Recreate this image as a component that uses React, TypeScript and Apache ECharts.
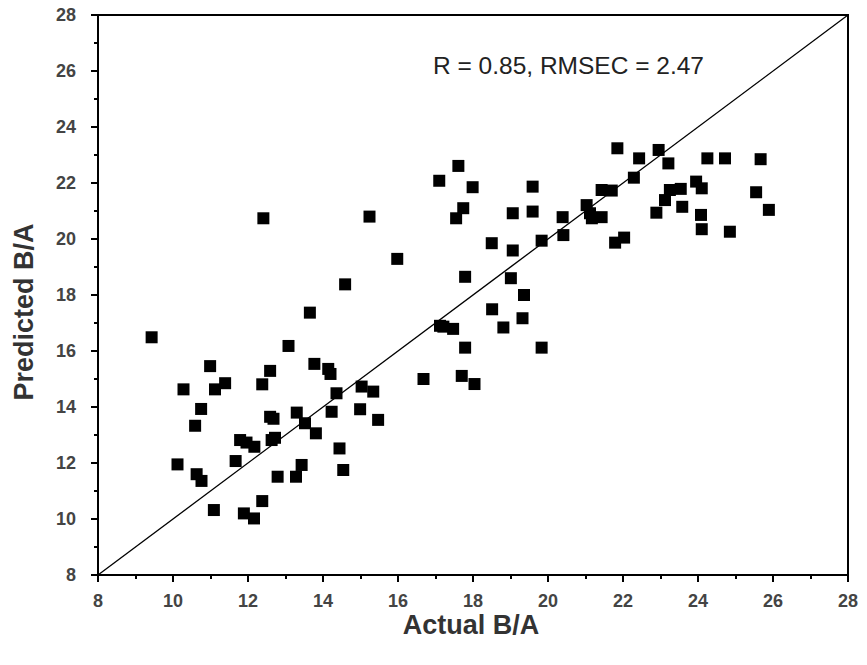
import React, { useEffect, useRef } from "react";
import * as echarts from "echarts";

const actual: number[] = [
  9.43, 13.65, 13.08, 10.99, 13.77, 14.14, 14.2, 12.59, 11.39, 11.12, 10.28, 12.38, 14.36, 15.03, 15.34,
  10.75, 10.59, 12.59, 12.68, 13.3, 13.52, 13.81, 14.23, 14.99, 15.47, 11.79, 11.96, 12.17, 12.63, 12.72,
  14.44, 10.12, 11.67, 10.63, 10.76, 12.79, 13.28, 13.43, 14.54, 11.09, 11.89, 12.16, 12.38,
  15.98, 14.59, 16.68, 17.7, 18.04, 17.79, 19.83, 17.12, 17.21, 17.47, 17.79, 18.51, 18.81, 19.32, 19.36,
  19.01, 18.5, 19.06, 19.83, 20.41,
  21.85, 22.95, 22.43, 23.21, 24.25, 24.72, 25.67, 17.61, 17.1, 17.99, 19.59, 22.29, 21.43, 21.7, 23.95,
  24.1, 23.25, 23.54, 23.12, 25.55, 17.74, 17.55, 19.06, 19.59, 21.03, 21.12, 21.17, 21.43, 20.39, 22.89,
  23.58, 24.08, 25.89, 24.1, 24.85, 21.79, 22.03,
  12.41, 15.24,
];

const predicted: number[] = [
  16.49, 17.37, 16.18, 15.46, 15.54, 15.36, 15.18, 15.29, 14.85, 14.63, 14.63, 14.81, 14.49, 14.73, 14.55,
  13.93, 13.33, 13.65, 13.58, 13.8, 13.42, 13.06, 13.83, 13.92, 13.54, 12.82, 12.73, 12.58, 12.82, 12.9,
  12.52, 11.95, 12.07, 11.6, 11.36, 11.51, 11.51, 11.93, 11.75, 10.32, 10.2, 10.02, 10.64,
  19.29, 18.38, 15.0, 15.11, 14.82, 16.12, 16.12, 16.9, 16.87, 16.79, 18.65, 17.49, 16.84, 17.17, 18.0,
  18.6, 19.85, 19.59, 19.94, 20.14,
  23.24, 23.18, 22.88, 22.7, 22.88, 22.88, 22.85, 22.61, 22.08, 21.85, 21.87, 22.19, 21.75, 21.73, 22.05,
  21.81, 21.75, 21.79, 21.39, 21.67, 21.1, 20.74, 20.92, 20.98, 21.21, 20.92, 20.74, 20.78, 20.78, 20.94,
  21.15, 20.86, 21.04, 20.35, 20.26, 19.87, 20.05,
  20.74, 20.8,
];

const identityLine: number[] = [8, 28];
const axisMin = 8;
const axisMax = 28;
const axisStep = 2;
const annotation = "R = 0.85, RMSEC = 2.47";
const xName = "Actual B/A";
const yName = "Predicted B/A";

export default function App() {
  const ref = useRef<HTMLDivElement>(null);
  useEffect(() => {
    if (!ref.current) return;
    const chart = echarts.init(ref.current, undefined, { renderer: "svg" });
    const points = actual.map((a, i) => [a, predicted[i]]);
    const font = "'Liberation Sans', Arial, sans-serif";
    const axisCommon = {
      type: "value" as const,
      min: axisMin,
      max: axisMax,
      interval: axisStep,
      axisLine: { show: true, onZero: false, lineStyle: { color: "#000", width: 2 } },
      axisTick: { show: true, inside: false, length: 7, lineStyle: { color: "#000", width: 2 } },
      minorTick: { show: true, splitNumber: 2, length: 4, lineStyle: { color: "#000", width: 2 } },
      splitLine: { show: false },
    };
    const labelStyle = {
      fontFamily: font,
      fontWeight: "bold" as const,
      fontSize: 18,
      color: "#444",
    };
    chart.setOption({
      animation: false,
      backgroundColor: "#fff",
      grid: {
        left: 98,
        right: 19,
        top: 15,
        bottom: 90,
        show: true,
        borderColor: "#000",
        borderWidth: 2,
        containLabel: false,
      },
      xAxis: {
        ...axisCommon,
        axisLabel: { ...labelStyle, margin: 17 },
      },
      yAxis: {
        ...axisCommon,
        axisLabel: { ...labelStyle, margin: 22 },
      },
      graphic: [
        {
          type: "text",
          left: 433,
          top: 53,
          style: {
            text: annotation,
            fontFamily: font,
            fontSize: 24.5,
            fill: "#222",
          },
        },
        {
          type: "text",
          x: 471,
          y: 625,
          style: {
            text: xName,
            fontFamily: font,
            fontWeight: "bold",
            fontSize: 27,
            fill: "#333",
            textAlign: "center",
            textVerticalAlign: "middle",
          },
        },
        {
          type: "text",
          x: 24,
          y: 312,
          rotation: Math.PI / 2,
          style: {
            text: yName,
            fontFamily: font,
            fontWeight: "bold",
            fontSize: 27,
            fill: "#333",
            textAlign: "center",
            textVerticalAlign: "middle",
          },
        },
      ],
      series: [
        {
          type: "line",
          data: [
            [identityLine[0], identityLine[0]],
            [identityLine[1], identityLine[1]],
          ],
          symbol: "none",
          lineStyle: { color: "#000", width: 1.3 },
          silent: true,
          z: 1,
        },
        {
          type: "scatter",
          data: points,
          symbol: "rect",
          symbolSize: 12,
          itemStyle: { color: "#000", opacity: 1 },
          z: 2,
        },
      ],
    });
    return () => chart.dispose();
  }, []);
  return (
    <div
      ref={ref}
      style={{ position: "absolute", left: 0, top: 0, width: 867, height: 665 }}
    />
  );
}
